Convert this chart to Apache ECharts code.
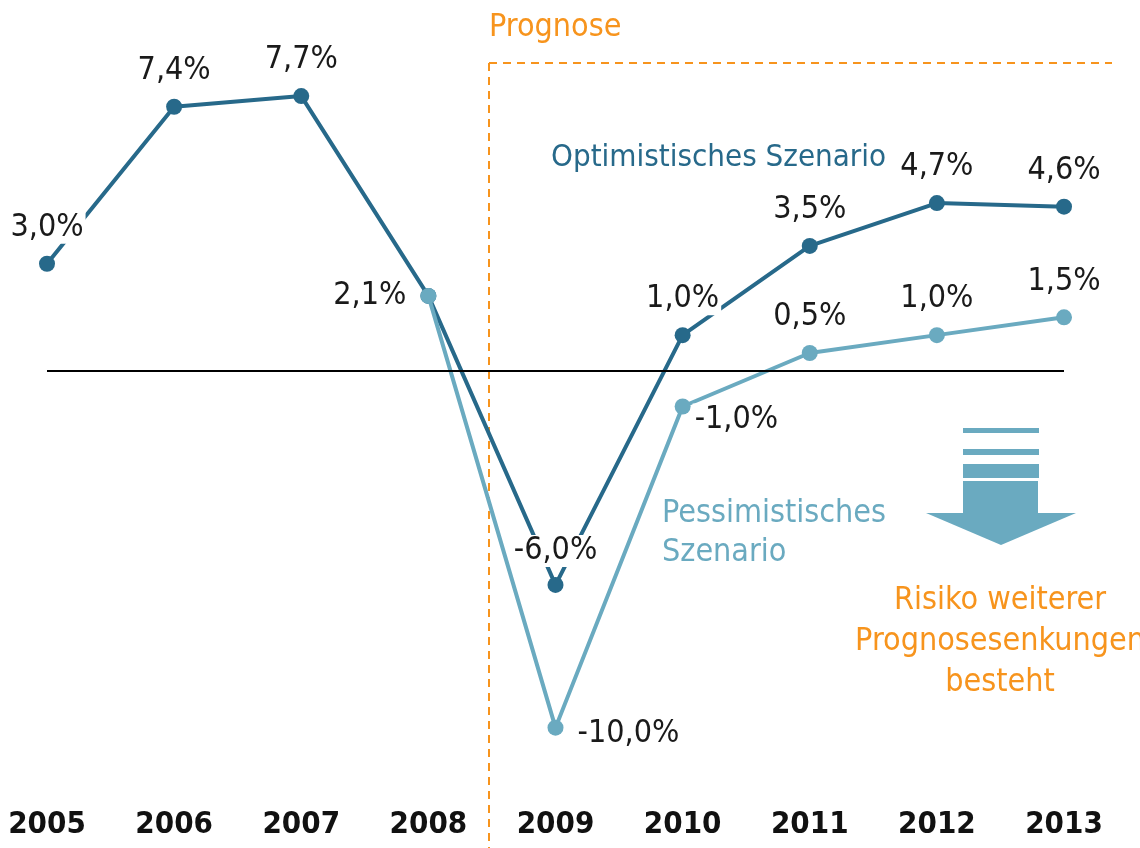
<!DOCTYPE html>
<html>
<head>
<meta charset="utf-8">
<script src="https://cdn.jsdelivr.net/npm/echarts@6/dist/echarts.min.js"></script>
<style>
  html, body { margin: 0; padding: 0; background: #fff; }
  #charts { width: 1140px; height: 848px; }
</style>
</head>
<body>
<div id="charts"></div>
<script>
// Jahre und Wachstumsraten in %
var years = ['2005', '2006', '2007', '2008', '2009', '2010', '2011', '2012', '2013'];
var optimistisch = [3.0, 7.4, 7.7, 2.1, -6.0, 1.0, 3.5, 4.7, 4.6];
var pessimistisch = [null, null, null, 2.1, -10.0, -1.0, 0.5, 1.0, 1.5];

var FONT = '"Liberation Sans Narrow", "Arial Narrow", "DejaVu Sans Condensed", sans-serif';
var DARK = '#27698a';
var LIGHT = '#6aaac0';
var ORANGE = '#f7941d';

function fmt(p) {
    return p.value.toFixed(1).replace('.', ',') + '%';
}

var chart = echarts.init(document.getElementById('charts'));

// Label-Positionen pro Punkt
var optPos = ['top', 'top', 'top', 'left', 'top', 'top', 'top', 'top', 'top'];
var pesPos = [null, null, null, 'left', 'right', 'right', 'top', 'top', 'top'];

var labelBase = {
    show: true,
    formatter: fmt,
    fontFamily: FONT,
    fontSize: 32,
    color: '#1a1a1a',
    backgroundColor: '#fff',
    padding: [0, 2, 0, 2],
    distance: 12
};

var optData = optimistisch.map(function (v, i) {
    var d = { value: v, label: { position: optPos[i] } };
    if (i === 4) d.label.offset = [0, 2];
    return d;
});
var pesData = pessimistisch.map(function (v, i) {
    if (v === null) return null;
    var d = { value: v, label: { position: pesPos[i] } };
    if (i === 3) d.label = { show: false };
    if (i === 4) d.label.offset = [0, 6];
    if (i === 5) d.label = { position: 'right', offset: [-10, 13] };
    return d;
});

option = {
    animation: false,
    grid: { left: 47, right: 76, top: 14, bottom: 49 },
    xAxis: {
        type: 'category',
        data: years,
        boundaryGap: false,
        axisLine: { show: false },
        axisTick: { show: false },
        axisLabel: {
            fontFamily: FONT,
            fontWeight: 'bold',
            fontSize: 31,
            color: '#111',
            margin: 10
        }
    },
    yAxis: {
        type: 'value',
        min: -12,
        max: 10,
        show: false,
        splitLine: { show: false }
    },
    series: [
        {
            name: 'Optimistisches Szenario',
            type: 'line',
            data: optData,
            z: 3,
            symbol: 'circle',
            symbolSize: 16,
            lineStyle: { color: DARK, width: 4 },
            itemStyle: { color: DARK },
            label: labelBase,
            markLine: {
                silent: true,
                symbol: 'none',
                label: { show: false },
                lineStyle: { color: '#000', width: 2, type: 'solid' },
                data: [{ yAxis: 0 }]
            }
        },
        {
            name: 'Pessimistisches Szenario',
            type: 'line',
            data: pesData,
            z: 4,
            symbol: 'circle',
            symbolSize: 16,
            lineStyle: { color: LIGHT, width: 4 },
            itemStyle: { color: LIGHT },
            label: labelBase
        }
    ],
    graphic: [
        // Prognose-Rahmen
        { type: 'line', shape: { x1: 489, y1: 63, x2: 489, y2: 848 },
          style: { stroke: ORANGE, lineWidth: 2, lineDash: [8, 6] }, z: 1 },
        { type: 'line', shape: { x1: 489, y1: 63, x2: 1112, y2: 63 },
          style: { stroke: ORANGE, lineWidth: 2, lineDash: [8, 6] }, z: 1 },
        { type: 'text', left: 489, top: 12,
          style: { text: 'Prognose', fill: ORANGE, font: '32px ' + FONT } },
        // Szenario-Beschriftungen
        { type: 'text', left: 551, top: 142,
          style: { text: 'Optimistisches Szenario', fill: DARK, font: '31px ' + FONT } },
        { type: 'text', left: 662, top: 494,
          style: { text: 'Pessimistisches\nSzenario', fill: LIGHT, font: '32px ' + FONT, lineHeight: 39 } },
        // Pfeil
        { type: 'rect', shape: { x: 963, y: 428, width: 76, height: 5 }, style: { fill: LIGHT } },
        { type: 'rect', shape: { x: 963, y: 449, width: 76, height: 6 }, style: { fill: LIGHT } },
        { type: 'rect', shape: { x: 963, y: 464, width: 76, height: 14 }, style: { fill: LIGHT } },
        { type: 'rect', shape: { x: 963, y: 481, width: 75, height: 33 }, style: { fill: LIGHT } },
        { type: 'polygon', shape: { points: [[926, 513], [1076, 513], [1001, 545]] }, style: { fill: LIGHT } },
        { type: 'text', x: 1000, y: 580,
          style: { text: 'Risiko weiterer\nPrognosesenkungen\nbesteht', fill: ORANGE,
                   font: '32px ' + FONT, align: 'center', lineHeight: 41 } }
    ]
};
chart.setOption(option);
</script>
</body>
</html>
